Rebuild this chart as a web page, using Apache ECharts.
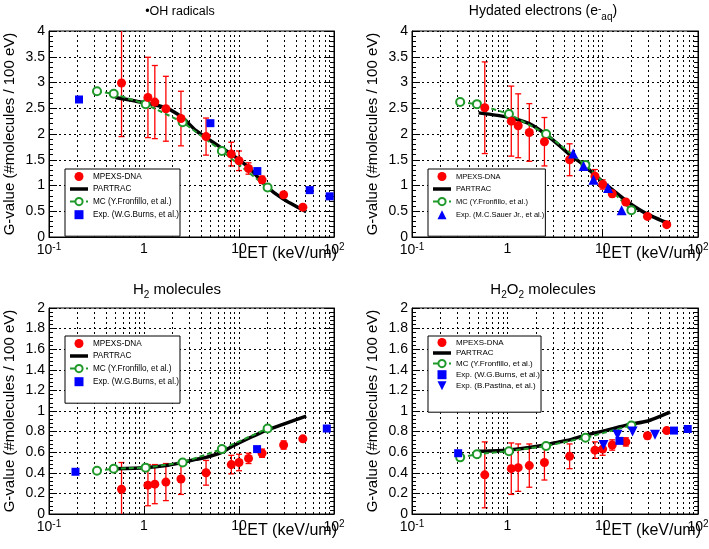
<!DOCTYPE html>
<html>
<head>
<meta charset="utf-8">
<script src="https://cdn.jsdelivr.net/npm/echarts@6/dist/echarts.min.js"></script>
<style>
html, body { margin: 0; padding: 0; background: #fff; }
#chart { width: 709px; height: 549px; }
</style>
</head>
<body>
<div id="chart"></div>
<script>
// LET values (keV/um)
var letMpexs = [0.58, 1.1, 1.3, 1.7, 2.45, 4.5, 8.3, 10, 12.6, 17.5, 29.5, 47];
var letPartrac = [0.5, 1, 1.7, 2.5, 3.5, 4.5, 6.3, 8.6, 13, 19, 29, 51];
var letMc = [0.32, 0.48, 1.04, 2.55, 6.6, 20];

// OH radicals
var ohMpexs = [2.99, 2.71, 2.62, 2.49, 2.30, 1.95, 1.61, 1.48, 1.33, 1.11, 0.82, 0.58];
var ohMpexsErr = [1.04, 0.78, 0.71, 0.63, 0.53, 0.36, 0.23, 0.19, 0.11, 0.07, 0.04, 0.03];
var ohPartrac = [2.71, 2.61, 2.51, 2.33, 2.07, 1.93, 1.75, 1.59, 1.33, 1.0, 0.74, 0.49];
var ohMc = [2.83, 2.78, 2.58, 2.23, 1.67, 0.96];
var ohBurnsLet = [0.207, 5.0, 15.6, 55.5, 90];
var ohBurns = [2.67, 2.21, 1.28, 0.91, 0.79];

// hydrated electrons
var eaqMpexs = [2.51, 2.25, 2.16, 2.03, 1.85, 1.50, 1.18, 1.02, 0.84, 0.68, 0.40, 0.24];
var eaqMpexsErr = [0.89, 0.68, 0.62, 0.56, 0.47, 0.31, 0.13, 0.09, 0.06, 0.04, 0.03, 0.02];
var eaqPartrac = [2.41, 2.33, 2.2, 2.0, 1.78, 1.6, 1.40, 1.18, 0.90, 0.66, 0.45, 0.25];
var eaqMc = [2.62, 2.58, 2.39, 2.0, 1.40, 0.52];
var eaqSauerLet = [4.9, 6.3, 8.0, 11.4, 15.8];
var eaqSauer = [1.62, 1.38, 1.11, 0.95, 0.52];

// H2 molecules
var h2Mpexs = [0.24, 0.28, 0.29, 0.31, 0.34, 0.40, 0.48, 0.50, 0.54, 0.59, 0.67, 0.73];
var h2MpexsErr = [0.26, 0.2, 0.19, 0.18, 0.15, 0.12, 0.09, 0.08, 0.05, 0.04, 0.04, 0.02];
var h2Partrac = [0.44, 0.45, 0.47, 0.50, 0.53, 0.55, 0.59, 0.66, 0.74, 0.81, 0.87, 0.95];
var h2Mc = [0.42, 0.44, 0.45, 0.50, 0.63, 0.83];
var h2BurnsLet = [0.19, 15.5, 84];
var h2Burns = [0.41, 0.63, 0.83];

// H2O2 molecules
var h2o2Mpexs = [0.38, 0.44, 0.45, 0.47, 0.50, 0.56, 0.62, 0.63, 0.67, 0.70, 0.76, 0.81];
var h2o2MpexsErr = [0.32, 0.25, 0.23, 0.21, 0.17, 0.12, 0.08, 0.06, 0.05, 0.04, 0.03, 0.01];
var h2o2Partrac = [0.61, 0.62, 0.645, 0.67, 0.70, 0.72, 0.76, 0.79, 0.83, 0.87, 0.90, 0.99];
var h2o2Mc = [0.55, 0.58, 0.61, 0.66, 0.74, 0.86];
var h2o2BurnsLet = [0.305, 15.0, 56, 78];
var h2o2Burns = [0.59, 0.71, 0.81, 0.825];
var h2o2PastinaLet = [10.2, 14.3, 20.6, 35.4];
var h2o2Pastina = [0.67, 0.77, 0.80, 0.77];

// vertical grid lines on the log axis
var gridLet = [0.2, 0.3, 0.4, 0.5, 0.6, 0.7, 0.8, 0.9, 1, 2, 3, 4, 5, 6, 7, 8, 9, 10,
               20, 30, 40, 50, 60, 70, 80, 90];

var NAME_MP = 'MPEXS-DNA';
var NAME_PT = 'PARTRAC';
var NAME_MC = 'MC (Y.Fronfillo, et al.)';
var NAME_BURNS = 'Exp. (W.G.Burns, et al.)';
var NAME_SAUER = 'Exp. (M.C.Sauer Jr., et al.)';
var NAME_PASTINA = 'Exp. (B.Pastina, et al.)';

var FONT = '"Liberation Sans", Arial, Helvetica, sans-serif';
var RED = '#ff0000', BLUE = '#0000ff', GREEN = '#1f9a2a';
var ICON_SQUARE = 'path://M0,0L1,0L1,1L0,1Z';
var ICON_UP = 'path://M0.5,0L1,1L0,1Z';
var ICON_DOWN = 'path://M0,0L1,0L0.5,1Z';
var ICON_BAR = 'path://M0,0L18,0L18,3.5L0,3.5Z';

var panels = [
    { title: '{n|•OH radicals}', ymax: 4, step: 0.5, mp: ohMpexs, err: ohMpexsErr, pt: ohPartrac, mc: ohMc,
      exp: [{ name: NAME_BURNS, x: ohBurnsLet, y: ohBurns, symbol: 'rect', icon: ICON_SQUARE, size: 8, rotate: 0 }] },
    { title: '{n|Hydated electrons (e}{sup|-}{sub|aq}{n|)}', ymax: 4, step: 0.5, mp: eaqMpexs, err: eaqMpexsErr, pt: eaqPartrac, mc: eaqMc,
      exp: [{ name: NAME_SAUER, x: eaqSauerLet, y: eaqSauer, symbol: 'triangle', icon: ICON_UP, size: 10, rotate: 0 }] },
    { title: '{n|H}{sub|2}{n| molecules}', ymax: 2, step: 0.2, mp: h2Mpexs, err: h2MpexsErr, pt: h2Partrac, mc: h2Mc,
      exp: [{ name: NAME_BURNS, x: h2BurnsLet, y: h2Burns, symbol: 'rect', icon: ICON_SQUARE, size: 8, rotate: 0 }] },
    { title: '{n|H}{sub|2}{n|O}{sub|2}{n| molecules}', ymax: 2, step: 0.2, mp: h2o2Mpexs, err: h2o2MpexsErr, pt: h2o2Partrac, mc: h2o2Mc,
      exp: [{ name: NAME_BURNS, x: h2o2BurnsLet, y: h2o2Burns, symbol: 'rect', icon: ICON_SQUARE, size: 8, rotate: 0 },
            { name: NAME_PASTINA, x: h2o2PastinaLet, y: h2o2Pastina, symbol: 'triangle', icon: ICON_DOWN, size: 10, rotate: 180 }] }
];

var grids = [
    { left: 49, top: 31, width: 285, height: 206 },
    { left: 412, top: 31, width: 286, height: 206 },
    { left: 49, top: 308, width: 285, height: 206 },
    { left: 412, top: 308, width: 286, height: 206 }
];
var titlePos = [[180, 5], [543, 4], [177, 282], [543, 282]];
var titleSize = [12.5, 14, 15, 15];
var legendPos = [[65, 169], [428, 169], [65, 336], [428, 336]];
var legendFont = [8.2, 7.5, 8.2, 8];

function pairs(xs, ys) {
    return xs.map(function (x, i) { return [x, ys[i]]; });
}

function errorBar(params, api) {
    var x = api.value(0);
    var top = api.coord([x, api.value(2)]);
    var bot = api.coord([x, api.value(1)]);
    var style = { stroke: RED, lineWidth: 1.3 };
    return {
        type: 'group',
        children: [
            { type: 'line', shape: { x1: top[0], y1: top[1], x2: bot[0], y2: bot[1] }, style: style },
            { type: 'line', shape: { x1: top[0] - 3, y1: top[1], x2: top[0] + 3, y2: top[1] }, style: style },
            { type: 'line', shape: { x1: bot[0] - 3, y1: bot[1], x2: bot[0] + 3, y2: bot[1] }, style: style }
        ]
    };
}

function letLabel(v) {
    var e = Math.round(Math.log10(v));
    if (e === 0) return '1';
    if (e === 1) return '10';
    return '10{sup|' + e + '}';
}

var dotted = [2, 3];
var option = {
    animation: false,
    textStyle: { fontFamily: FONT },
    grid: [], xAxis: [], yAxis: [], legend: [], series: [], graphic: []
};

panels.forEach(function (p, i) {
    var g = grids[i];
    option.grid.push(Object.assign({ show: true, borderColor: '#000', borderWidth: 1,
                                     containLabel: false, outerBoundsMode: 'none' }, g));

    option.xAxis.push({
        type: 'log', logBase: 10, min: 0.1, max: 100, gridIndex: i,
        axisLine: { lineStyle: { color: '#000', width: 1 } },
        axisTick: { inside: true, length: 8, lineStyle: { color: '#000' } },
        axisLabel: { color: '#000', fontSize: 14, margin: 5, formatter: letLabel,
                     rich: { sup: { fontSize: 10, verticalAlign: 'top', padding: [0, 0, 6, 0] } } },
        splitLine: { show: false }
    });

    option.yAxis.push({
        type: 'value', min: 0, max: p.ymax, interval: p.step, gridIndex: i,
        axisLine: { show: true, lineStyle: { color: '#000', width: 1 } },
        axisTick: { inside: true, length: 8, lineStyle: { color: '#000' } },
        minorTick: { show: true, splitNumber: 5, length: 4, lineStyle: { color: '#000' } },
        axisLabel: { color: '#000', fontSize: 14, margin: 4 },
        splitLine: { show: true, lineStyle: { color: '#000', type: dotted, width: 1 } },
        name: 'G-value (#molecules / 100 eV)', nameLocation: 'middle', nameGap: 32, nameRotate: 90,
        nameTextStyle: { color: '#000', fontSize: 15 }
    });

    // vertical dotted grid
    option.series.push({
        type: 'line', xAxisIndex: i, yAxisIndex: i, data: [], silent: true, z: 1,
        markLine: {
            silent: true, symbol: 'none', label: { show: false }, animation: false,
            lineStyle: { color: '#000', type: dotted, width: 1 },
            data: gridLet.map(function (v) { return { xAxis: v }; })
        }
    });

    option.series.push({
        type: 'custom', name: 'err', xAxisIndex: i, yAxisIndex: i, clip: true, z: 3, silent: true,
        data: letMpexs.map(function (x, k) { return [x, p.mp[k] - p.err[k], p.mp[k] + p.err[k]]; }),
        encode: { x: 0, y: [1, 2] },
        renderItem: errorBar
    });

    option.series.push({
        type: 'line', name: NAME_PT, xAxisIndex: i, yAxisIndex: i, z: 4,
        data: pairs(letPartrac, p.pt), symbol: 'none', smooth: 0.2,
        lineStyle: { color: '#000', width: 3.5 }, itemStyle: { color: '#000' }
    });

    option.series.push({
        type: 'line', name: NAME_MC, xAxisIndex: i, yAxisIndex: i, z: 5,
        data: pairs(letMc, p.mc), symbol: 'emptyCircle', symbolSize: 8,
        lineStyle: { color: GREEN, width: 2, type: [5, 3] },
        itemStyle: { color: GREEN, borderColor: GREEN, borderWidth: 1.5 }
    });

    option.series.push({
        type: 'scatter', name: NAME_MP, xAxisIndex: i, yAxisIndex: i, z: 6,
        data: pairs(letMpexs, p.mp), symbol: 'circle', symbolSize: 9,
        itemStyle: { color: RED, opacity: 1 }
    });

    p.exp.forEach(function (e) {
        option.series.push({
            type: 'scatter', name: e.name, xAxisIndex: i, yAxisIndex: i, z: 7,
            data: pairs(e.x, e.y), symbol: e.symbol, symbolSize: e.size, symbolRotate: e.rotate,
            itemStyle: { color: BLUE, opacity: 1 }
        });
    });

    var five = p.exp.length > 1;
    option.legend.push({
        orient: 'vertical', left: legendPos[i][0], top: legendPos[i][1], z: 20,
        data: [NAME_MP, { name: NAME_PT, icon: ICON_BAR }, NAME_MC].concat(
            p.exp.map(function (e) { return { name: e.name, icon: e.icon }; })),
        itemWidth: 18, itemHeight: 9, itemGap: five ? 2 : 4, symbolKeepAspect: true,
        padding: five ? [2, 1, 22, 4] : [3, 1, 17, 4],
        selectedMode: false, backgroundColor: '#fff', borderColor: '#000', borderWidth: 1,
        textStyle: { color: '#000', fontSize: legendFont[i], fontFamily: FONT }
    });

    option.graphic.push({
        type: 'text', x: titlePos[i][0], y: titlePos[i][1], silent: true,
        style: {
            text: p.title, align: 'center', textAlign: 'center', verticalAlign: 'top', textVerticalAlign: 'top',
            fill: '#000', fontSize: titleSize[i], fontFamily: FONT,
            rich: {
                n: { fontSize: titleSize[i], fontFamily: FONT, verticalAlign: 'top', fill: '#000' },
                sub: { fontSize: 10, fontFamily: FONT, verticalAlign: 'top', padding: [8, 0, 0, 0], fill: '#000' },
                sup: { fontSize: 10, fontFamily: FONT, verticalAlign: 'top', fill: '#000' }
            }
        }
    });

    option.graphic.push({
        type: 'text', x: g.left + g.width + 3, y: g.top + g.height + 9, silent: true, z: 30,
        style: {
            text: 'LET (keV/um)', align: 'right', textAlign: 'right', verticalAlign: 'top', textVerticalAlign: 'top',
            fill: '#000', fontSize: 16, fontFamily: FONT
        }
    });
});

// right-hand tick axes
panels.forEach(function (p, i) {
    option.yAxis.push({
        type: 'value', min: 0, max: p.ymax, interval: p.step, gridIndex: i, position: 'right',
        axisLine: { show: true, lineStyle: { color: '#000' } },
        axisTick: { inside: true, length: 8, lineStyle: { color: '#000' } },
        minorTick: { show: true, splitNumber: 5, length: 4, lineStyle: { color: '#000' } },
        axisLabel: { show: false }, splitLine: { show: false }
    });
});

var chart = echarts.init(document.getElementById('chart'));
chart.setOption(option);
</script>
</body>
</html>
